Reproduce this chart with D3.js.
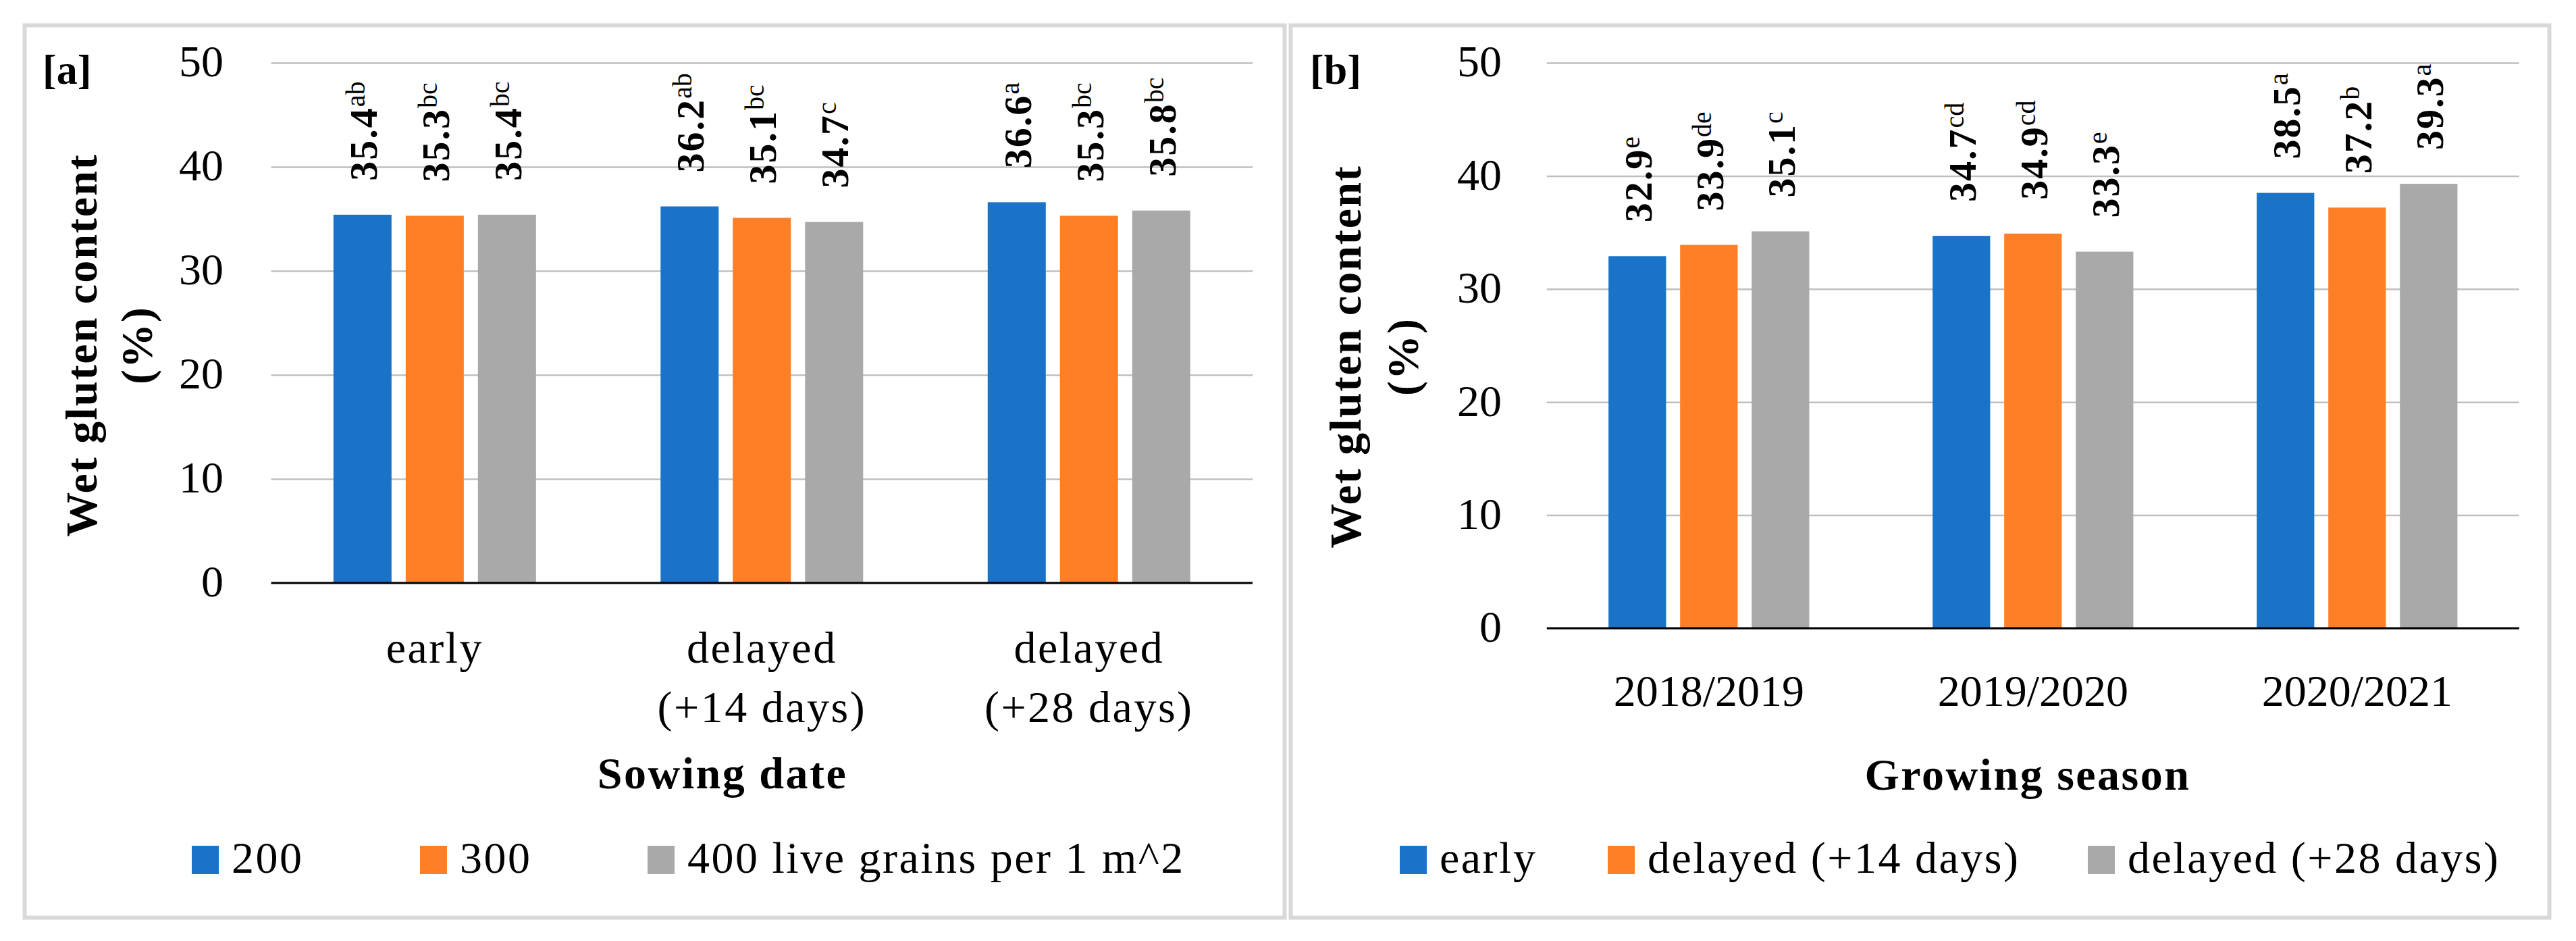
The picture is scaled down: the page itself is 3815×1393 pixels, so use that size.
<!DOCTYPE html>
<html>
<head>
<meta charset="utf-8">
<script src="https://cdn.jsdelivr.net/npm/d3@7"></script>
<style>
  html, body { margin: 0; padding: 0; background: #ffffff; }
  svg { display: block; }
</style>
</head>
<body>
<svg id="chart" width="3815" height="1393"></svg>
<script>
// ---------------- data ----------------
const yTicks = [0, 10, 20, 30, 40, 50];

// Panel [a]: sowing date x seeding rate
const categoriesA = ["early", "delayed (+14 days)", "delayed (+28 days)"];
const seriesA = ["200", "300", "400 live grains per 1 m^2"];
const valuesA200 = [35.4, 36.2, 36.6];
const valuesA300 = [35.3, 35.1, 35.3];
const valuesA400 = [35.4, 34.7, 35.8];
const lettersA200 = ["ab", "ab", "a"];
const lettersA300 = ["bc", "bc", "bc"];
const lettersA400 = ["bc", "c", "bc"];

// Panel [b]: growing season x sowing date
const categoriesB = ["2018/2019", "2019/2020", "2020/2021"];
const seriesB = ["early", "delayed (+14 days)", "delayed (+28 days)"];
const valuesBEarly = [32.9, 34.7, 38.5];
const valuesB14 = [33.9, 34.9, 37.2];
const valuesB28 = [35.1, 33.3, 39.3];
const lettersBEarly = ["e", "cd", "a"];
const lettersB14 = ["de", "cd", "b"];
const lettersB28 = ["c", "e", "a"];

const colors = ["#1a73c7", "#ff7f27", "#a9a9a9"];

// ---------------- layout ----------------
const FONT = "'Liberation Serif', 'Times New Roman', serif";
const svg = d3.select("#chart");
svg.append("rect").attr("width", 3815).attr("height", 1393).attr("fill", "#fff");

const panels = [
  {
    tag: "[a]", tagX: 63,
    categories: categoriesA, series: seriesA,
    values: [valuesA200, valuesA300, valuesA400],
    letters: [lettersA200, lettersA300, lettersA400],
    border: { x1: 36.5, x2: 1902.5 },
    plot: { left: 401.6, right: 1855, top: 93, bottom: 863 },
    yTitleX: [143, 225], yTitleCy: 511,
    catBaseline: 981, catLineGap: 88,
    xTitle: "Sowing date", xTitleX: 1070, xTitleY: 1167,
    legendX: [284, 622, 959]
  },
  {
    tag: "[b]", tagX: 1940,
    categories: categoriesB, series: seriesB,
    values: [valuesBEarly, valuesB14, valuesB28],
    letters: [lettersBEarly, lettersB14, lettersB28],
    border: { x1: 1911.5, x2: 3775.5 },
    plot: { left: 2290.8, right: 3730.8, top: 93, bottom: 930 },
    yTitleX: [2015, 2100], yTitleCy: 528,
    catBaseline: 1045, catLineGap: 88,
    xTitle: "Growing season", xTitleX: 3003, xTitleY: 1168.5,
    legendX: [2073, 2381, 3092]
  }
];

function splitLabel(s) {
  const i = s.indexOf(" (");
  return i < 0 ? [s] : [s.slice(0, i), s.slice(i + 1)];
}

panels.forEach(p => {
  const g = svg.append("g");

  // border
  g.append("rect")
    .attr("x", p.border.x1).attr("y", 37.5)
    .attr("width", p.border.x2 - p.border.x1).attr("height", 1358.5 - 37.5)
    .attr("fill", "none").attr("stroke", "#d9d9d9").attr("stroke-width", 6);

  const x0 = d3.scaleBand().domain(p.categories).range([p.plot.left, p.plot.right]).padding(0);
  const x1 = d3.scaleBand().domain(p.series).range([0, x0.bandwidth()])
    .paddingInner(0.196).paddingOuter(0.862);
  const y = d3.scaleLinear().domain([0, 50]).range([p.plot.bottom, p.plot.top]);

  // y axis with gridlines
  const yAxis = d3.axisLeft(y).tickValues(yTicks)
    .tickSize(-(p.plot.right - p.plot.left)).tickPadding(p.plot.left - (p.tag === "[a]" ? 331 : 2224));
  const ya = g.append("g").attr("transform", `translate(${p.plot.left},0)`).call(yAxis);
  ya.select(".domain").remove();
  ya.selectAll(".tick line").attr("stroke", "#bfbfbf").attr("stroke-width", 2.5);
  ya.selectAll(".tick text")
    .attr("font-family", FONT).attr("font-size", 66).attr("fill", "#000")
    .attr("dy", "0.3em");

  // bars
  p.series.forEach((s, si) => {
    p.categories.forEach((c, ci) => {
      const v = p.values[si][ci];
      const bx = x0(c) + x1(s);
      g.append("rect")
        .attr("x", bx).attr("y", y(v))
        .attr("width", x1.bandwidth()).attr("height", y(0) - y(v))
        .attr("fill", colors[si]);
      // rotated value label with superscript letters
      const cx = bx + x1.bandwidth() / 2;
      const t = g.append("text")
        .attr("transform", `translate(${cx + 21},${y(v) - 50}) rotate(-90)`)
        .attr("font-family", FONT).attr("fill", "#000");
      t.append("tspan").attr("font-weight", "bold").attr("font-size", 58).attr("letter-spacing", 2)
        .text(v.toFixed(1));
      t.append("tspan").attr("font-size", 40).attr("dy", -18)
        .text(p.letters[si][ci]);
    });
  });

  // x axis line
  g.append("line")
    .attr("x1", p.plot.left).attr("x2", p.plot.right)
    .attr("y1", y(0)).attr("y2", y(0))
    .attr("stroke", "#000").attr("stroke-width", 3);

  // category labels
  p.categories.forEach(c => {
    const lines = splitLabel(c);
    const isNum = /^\d/.test(c);
    const t = g.append("text")
      .attr("x", x0(c) + x0.bandwidth() / 2).attr("y", p.catBaseline)
      .attr("text-anchor", "middle").attr("font-family", FONT).attr("font-size", 66)
      .attr("letter-spacing", isNum ? 0 : 2.5).attr("fill", "#000");
    lines.forEach((l, li) => {
      t.append("tspan").attr("x", x0(c) + x0.bandwidth() / 2)
        .attr("y", p.catBaseline + li * p.catLineGap).text(l);
    });
  });

  // x axis title
  g.append("text")
    .attr("x", p.xTitleX).attr("y", p.xTitleY).attr("text-anchor", "middle")
    .attr("font-family", FONT).attr("font-size", 66).attr("font-weight", "bold")
    .attr("letter-spacing", 2.5).text(p.xTitle);

  // y axis title (two lines, rotated)
  ["Wet gluten content", "(%)"].forEach((l, li) => {
    g.append("text")
      .attr("transform", `translate(${p.yTitleX[li]},${p.yTitleCy}) rotate(-90)`)
      .attr("text-anchor", "middle")
      .attr("font-family", FONT).attr("font-size", 66).attr("font-weight", "bold")
      .attr("letter-spacing", 2).text(l);
  });

  // panel tag
  g.append("text")
    .attr("x", p.tagX).attr("y", 124)
    .attr("font-family", FONT).attr("font-size", 62).attr("font-weight", "bold")
    .text(p.tag);

  // legend
  p.series.forEach((s, si) => {
    const lx = p.legendX[si];
    g.append("rect").attr("x", lx).attr("y", 1252).attr("width", 40).attr("height", 42)
      .attr("fill", colors[si]);
    g.append("text").attr("x", lx + 59).attr("y", 1292)
      .attr("font-family", FONT).attr("font-size", 66).attr("letter-spacing", 2.5)
      .attr("fill", "#000").text(s);
  });
});
</script>
</body>
</html>
